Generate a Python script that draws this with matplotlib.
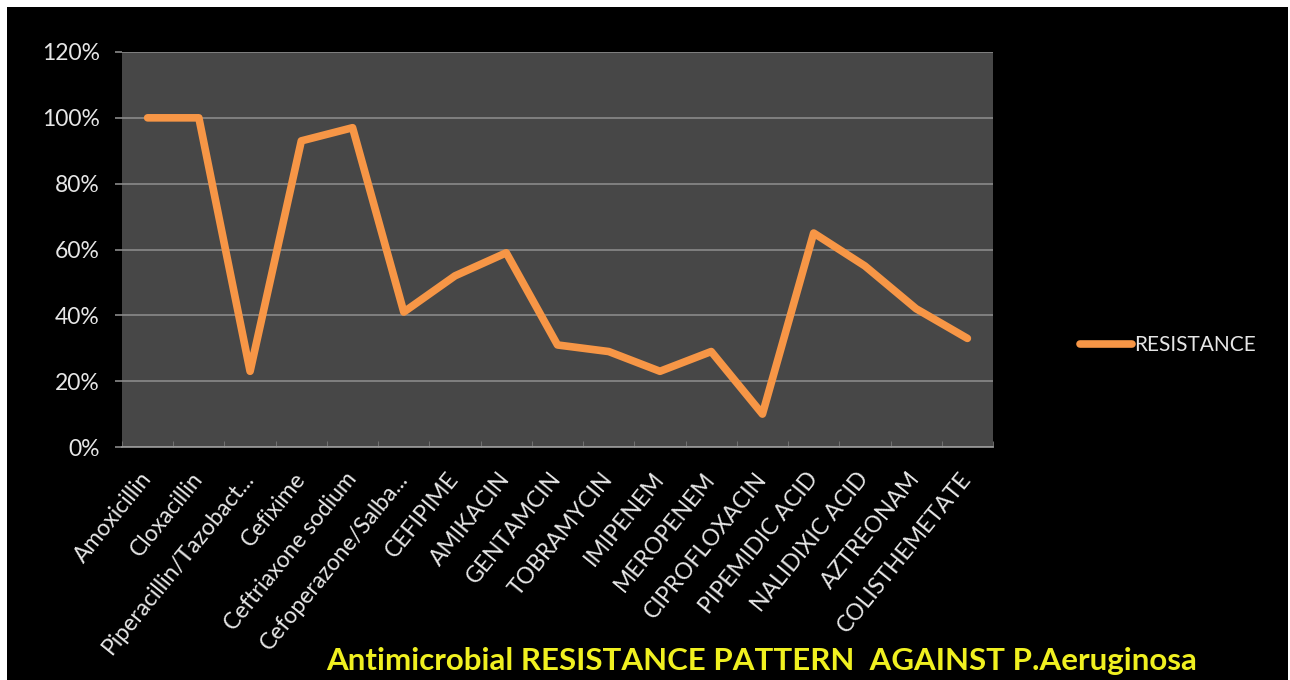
import numpy as np
import matplotlib.pyplot as plt
from matplotlib.patches import Rectangle
from matplotlib.ticker import PercentFormatter

antibioticos = ["Amoxicillin", "Cloxacillin", "Piperacillin/Tazobact...", "Cefixime",
                "Ceftriaxone sodium", "Cefoperazone/Salba...", "CEFIPIME", "AMIKACIN",
                "GENTAMCIN", "TOBRAMYCIN", "IMIPENEM", "MEROPENEM", "CIPROFLOXACIN",
                "PIPEMIDIC ACID", "NALIDIXIC ACID", "AZTREONAM", "COLISTHEMETATE"]
resistencia = [1.00, 1.00, 0.23, 0.93, 0.97, 0.41, 0.52, 0.59, 0.31, 0.29,
               0.23, 0.29, 0.10, 0.65, 0.55, 0.42, 0.33]
yticks = [0, 0.2, 0.4, 0.6, 0.8, 1.0, 1.2]

fonte = "Lato"
laranja = "#f79646"

fig = plt.figure(figsize=(12.9, 6.8), dpi=100, facecolor="white")
# fundo preto do slide, com uma borda branca fina
fig.patches.append(Rectangle((7/1290, 0), 1281/1290, 673/680, transform=fig.transFigure,
                             facecolor="black", edgecolor="none", zorder=-10))

ax = fig.add_axes([122/1290, 1 - 447/680, 871/1290, 395/680])
ax.set_facecolor("#474747")

x = np.arange(len(antibioticos))
ax.plot(x, resistencia, color=laranja, lw=5.5, solid_joinstyle="round",
        solid_capstyle="round", label="RESISTANCE", zorder=3)

ax.set_xlim(-0.5, len(antibioticos) - 0.5)
ax.set_ylim(0, 1.2)
ax.set_yticks(yticks)
ax.yaxis.set_major_formatter(PercentFormatter(1.0, decimals=0))
ax.grid(axis="y", color="#8a8a8a", lw=1.2, zorder=1)

for s in ["top", "right", "left"]:
    ax.spines[s].set_visible(False)
ax.spines["bottom"].set_color("#9a9a9a")
ax.spines["bottom"].set_linewidth(1.2)

ax.tick_params(axis="y", colors="#8a8a8a", length=5, width=1.2, labelcolor="#e6e6e6",
               labelsize=16.5, pad=11)
for t in ax.get_yticklabels():
    t.set_fontfamily(fonte)

ax.set_xticks(x)
ax.set_xticklabels(antibioticos, rotation=51, ha="right", va="center",
                   rotation_mode="anchor", fontsize=16.5, color="#e6e6e6", fontfamily=fonte)
ax.tick_params(axis="x", which="major", length=0, pad=20)
ax.set_xticks(np.arange(len(antibioticos) + 1) - 0.5, minor=True)
ax.tick_params(axis="x", which="minor", direction="in", length=4, color="#7a7a7a")

leg = fig.legend(loc="center left", bbox_to_anchor=(1080/1290, 1 - 345/680),
                 frameon=False, borderpad=0, borderaxespad=0, handlelength=2.5,
                 handletextpad=0.1, prop={"family": fonte, "size": 15})
for t in leg.get_texts():
    t.set_color("#e6e6e6")

fig.text(762/1290, 1 - 661/680, "Antimicrobial RESISTANCE PATTERN  AGAINST P.Aeruginosa",
         ha="center", va="center", color="#f0f020", fontsize=22.5, fontweight="bold",
         fontfamily=fonte)

fig.savefig("out.png", dpi=100, facecolor=fig.get_facecolor())
